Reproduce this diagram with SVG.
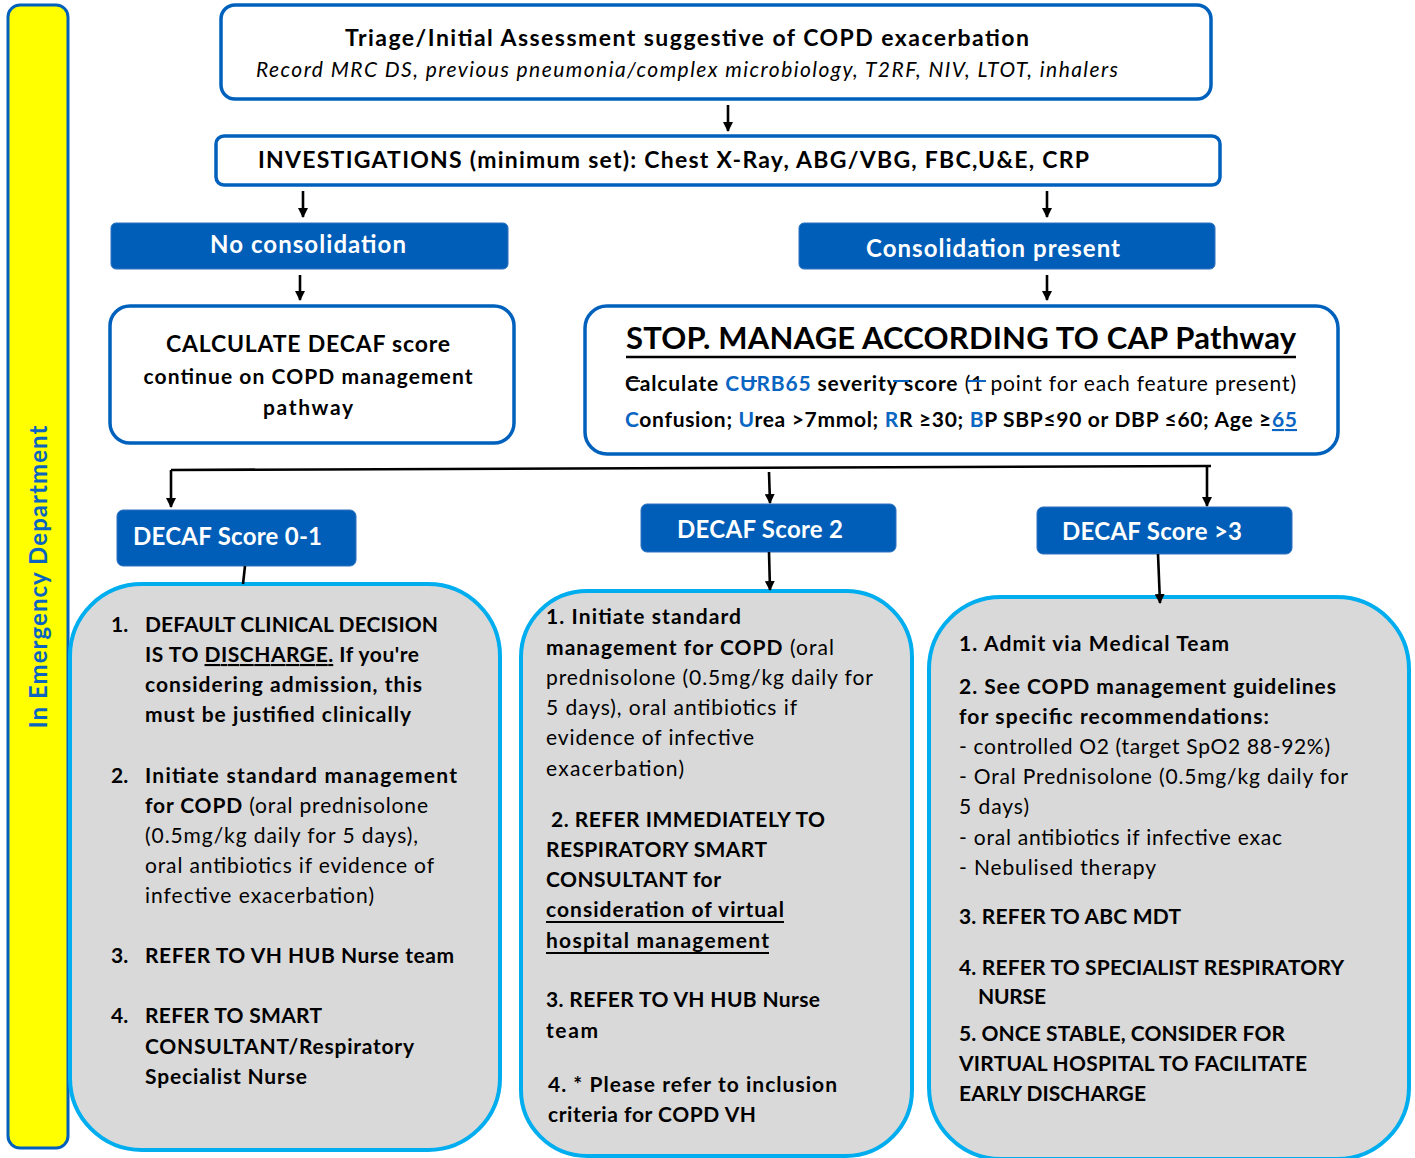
<svg xmlns="http://www.w3.org/2000/svg" width="1415" height="1158" viewBox="0 0 1415 1158">
  <defs>
    <marker id="arrow" markerWidth="10" markerHeight="10" refX="9" refY="5" orient="auto" markerUnits="userSpaceOnUse" viewBox="0 0 10 10">
      <path d="M0,0 L10,5 L0,10 Z" fill="#000"/>
    </marker>
    <style>
      text { font-family: Lato, "Open Sans", "Liberation Sans", sans-serif; fill: #000; }
      .outline { fill: #fff; stroke: #0061bd; stroke-width: 3.5; }
      .pill { fill: #005eb8; stroke: #2f73c0; stroke-width: 1; }
      .panel { fill: #d9d9d9; stroke: #00aeef; stroke-width: 4; }
      .conn { stroke: #000; stroke-width: 2.6; fill: none; }
      .pilltxt { fill: #fff; font-weight: 700; font-size: 24px; }
      .b { font-weight: 700; }
      .n { font-weight: 400; }
      .blue { fill: #0a66c2; }
      .body { font-size: 21px; }
      .u { text-decoration: underline; }
      .uline { stroke: #000; stroke-width: 1.8; }
    </style>
  </defs>

  <!-- side banner -->
  <g id="banner">
    <rect x="8" y="5" width="60" height="1143" rx="12" fill="#ffff00" stroke="#0061bd" stroke-width="3"/>
    <text transform="translate(47,577) rotate(-90)" text-anchor="middle" font-size="24" font-weight="700" style="fill:#0a64c0" textLength="303">In Emergency Department</text>
  </g>

  <!-- triage -->
  <g id="triage">
    <rect class="outline" x="221" y="5" width="990" height="94" rx="14"/>
    <text x="687" y="46" text-anchor="middle" font-size="23" class="b" textLength="684">Triage/Initial Assessment suggestive of COPD exacerbation</text>
    <text x="687" y="77" text-anchor="middle" font-size="21" font-style="italic" textLength="862">Record MRC DS, previous pneumonia/complex microbiology, T2RF, NIV, LTOT, inhalers</text>
  </g>

  <!-- investigations -->
  <g id="investigations">
    <rect class="outline" x="216" y="136" width="1004" height="49" rx="8"/>
    <text x="258" y="168" font-size="23" class="b" textLength="831">INVESTIGATIONS (minimum set): Chest X-Ray, ABG/VBG, FBC,U&amp;E, CRP</text>
  </g>

  <g id="no-consolidation">
    <rect class="pill" x="111" y="223" width="397" height="46" rx="5"/>
    <text class="pilltxt" x="308" y="253" text-anchor="middle" textLength="196">No consolidation</text>
  </g>

  <g id="consolidation">
    <rect class="pill" x="799" y="223" width="416" height="46" rx="5"/>
    <text class="pilltxt" x="993" y="257" text-anchor="middle" textLength="254">Consolidation present</text>
  </g>

  <g id="decaf-calc">
    <rect class="outline" x="110" y="306" width="404" height="137" rx="20"/>
    <text x="308" y="352" text-anchor="middle" font-size="23" class="b" textLength="284">CALCULATE DECAF score</text>
    <text x="308" y="384" text-anchor="middle" font-size="21" class="b" textLength="329">continue on COPD management</text>
    <text x="308" y="415" text-anchor="middle" font-size="21" class="b" textLength="90">pathway</text>
  </g>

  <g id="cap-pathway">
    <rect class="outline" x="585" y="306" width="753" height="148" rx="22"/>
    <text x="626" y="349" font-size="31" class="b" textLength="670">STOP. MANAGE ACCORDING TO CAP Pathway</text>
    <line x1="626" y1="357" x2="1296" y2="357" stroke="#000" stroke-width="2.5"/>
    <text x="625" y="391" font-size="21" textLength="671"><tspan class="b">Calculate </tspan><tspan class="b blue">CURB65</tspan><tspan class="b"> severity score</tspan><tspan class="n"> (1 point for each feature present)</tspan></text>
    <!-- stray edit marks -->
    <line x1="626" y1="381" x2="640" y2="381" stroke="#222" stroke-width="2"/>
    <g stroke="#0a66c2" stroke-width="2">
      <line x1="743" y1="381" x2="757" y2="381"/>
      <line x1="893" y1="381" x2="909" y2="381"/>
      <line x1="968" y1="381" x2="986" y2="381"/>
    </g>
    <text x="625" y="427" font-size="21" class="b" textLength="672"><tspan class="blue">C</tspan>onfusion; <tspan class="blue">U</tspan>rea &gt;7mmol; <tspan class="blue">R</tspan>R ≥30; <tspan class="blue">B</tspan>P SBP≤90 or DBP ≤60; Age ≥<tspan class="blue u">65</tspan></text>
  </g>

  <g id="decaf-0-1">
    <rect class="pill" x="117" y="510" width="239" height="56" rx="6"/>
    <text class="pilltxt" x="133" y="545" textLength="189">DECAF Score 0-1</text>
  </g>

  <g id="decaf-2">
    <rect class="pill" x="641" y="504" width="255" height="48" rx="6"/>
    <text class="pilltxt" x="677" y="538" textLength="166">DECAF Score 2</text>
  </g>

  <g id="decaf-3">
    <rect class="pill" x="1037" y="507" width="255" height="47" rx="6"/>
    <text class="pilltxt" x="1062" y="540" textLength="180">DECAF Score &gt;3</text>
  </g>

  <!-- low score actions -->
  <g id="actions-low">
    <rect class="panel" x="70" y="584" width="430" height="566" rx="72"/>
    <g class="body">
      <text x="111" y="632" class="b">1.</text>
      <text x="145" y="632" class="b" textLength="293">DEFAULT CLINICAL DECISION</text>
      <text x="145" y="662" class="b" textLength="274">IS TO <tspan class="u">DISCHARGE.</tspan> If you're</text>
      <text x="145" y="692" class="b" textLength="277">considering admission, this</text>
      <text x="145" y="722" class="b" textLength="266">must be justified clinically</text>
      <text x="111" y="783" class="b">2.</text>
      <text x="145" y="783" class="b" textLength="312">Initiate standard management</text>
      <text x="145" y="813" textLength="283"><tspan class="b">for COPD</tspan> (oral prednisolone</text>
      <text x="145" y="843" textLength="273">(0.5mg/kg daily for 5 days),</text>
      <text x="145" y="873" textLength="289">oral antibiotics if evidence of</text>
      <text x="145" y="903" textLength="229">infective exacerbation)</text>
      <text x="111" y="963" class="b">3.</text>
      <text x="145" y="963" class="b" textLength="309">REFER TO VH HUB Nurse team</text>
      <text x="111" y="1023" class="b">4.</text>
      <text x="145" y="1023" class="b" textLength="177">REFER TO SMART</text>
      <text x="145" y="1054" class="b" textLength="269">CONSULTANT/Respiratory</text>
      <text x="145" y="1084" class="b" textLength="162">Specialist Nurse</text>
    </g>
  </g>

  <!-- score 2 actions -->
  <g id="actions-mid">
    <rect class="panel" x="521" y="591" width="391" height="565" rx="66"/>
    <g class="body">
      <text x="546" y="624" class="b" textLength="195">1. Initiate standard</text>
      <text x="546" y="655" textLength="288"><tspan class="b">management for COPD</tspan> (oral</text>
      <text x="546" y="685" textLength="327">prednisolone (0.5mg/kg daily for</text>
      <text x="546" y="715" textLength="251">5 days), oral antibiotics if</text>
      <text x="546" y="745" textLength="208">evidence of infective</text>
      <text x="546" y="776" textLength="138">exacerbation)</text>
      <text x="551" y="827" class="b" textLength="274">2. REFER IMMEDIATELY TO</text>
      <text x="546" y="857" class="b" textLength="221">RESPIRATORY SMART</text>
      <text x="546" y="887" class="b" textLength="175">CONSULTANT for</text>
      <text x="546" y="917" class="b" textLength="238">consideration of virtual</text>
      <line class="uline" x1="546" y1="922" x2="784" y2="922"/>
      <text x="546" y="948" class="b" textLength="223">hospital management</text>
      <line class="uline" x1="546" y1="953" x2="769" y2="953"/>
      <text x="546" y="1007" class="b" textLength="274">3. REFER TO VH HUB Nurse</text>
      <text x="546" y="1038" class="b" textLength="52">team</text>
      <text x="548" y="1092" class="b" textLength="289">4. * Please refer to inclusion</text>
      <text x="548" y="1122" class="b" textLength="208">criteria for COPD VH</text>
    </g>
  </g>

  <!-- high score actions -->
  <g id="actions-high">
    <rect class="panel" x="929" y="597" width="480" height="562" rx="72"/>
    <g class="body">
      <text x="959" y="651" class="b" textLength="270">1. Admit via Medical Team</text>
      <text x="959" y="694" class="b" textLength="377">2. See COPD management guidelines</text>
      <text x="959" y="724" class="b" textLength="310">for specific recommendations:</text>
      <text x="959" y="754" textLength="371">- controlled O2 (target SpO2 88-92%)</text>
      <text x="959" y="784" textLength="389">- Oral Prednisolone (0.5mg/kg daily for</text>
      <text x="959" y="814" textLength="70">5 days)</text>
      <text x="959" y="845" textLength="323">- oral antibiotics if infective exac</text>
      <text x="959" y="875" textLength="197">- Nebulised therapy</text>
      <text x="959" y="924" class="b" textLength="222">3. REFER TO ABC MDT</text>
      <text x="959" y="975" class="b" textLength="385">4. REFER TO SPECIALIST RESPIRATORY</text>
      <text x="978" y="1004" class="b" textLength="68">NURSE</text>
      <text x="959" y="1041" class="b" textLength="326">5. ONCE STABLE, CONSIDER FOR</text>
      <text x="959" y="1071" class="b" textLength="348">VIRTUAL HOSPITAL TO FACILITATE</text>
      <text x="959" y="1101" class="b" textLength="187">EARLY DISCHARGE</text>
    </g>
  </g>

  <!-- connectors, drawn last so arrow tips sit over box edges -->
  <g id="connectors">
    <line class="conn" x1="728" y1="105" x2="728" y2="131" marker-end="url(#arrow)"/>
    <line class="conn" x1="303" y1="191" x2="303" y2="217" marker-end="url(#arrow)"/>
    <line class="conn" x1="1047" y1="191" x2="1047" y2="217" marker-end="url(#arrow)"/>
    <line class="conn" x1="300" y1="275" x2="300" y2="300" marker-end="url(#arrow)"/>
    <line class="conn" x1="1047" y1="275" x2="1047" y2="300" marker-end="url(#arrow)"/>
    <path class="conn" d="M171,470 L1211,466" stroke-width="3.2"/>
    <line class="conn" x1="171" y1="470" x2="171" y2="507" marker-end="url(#arrow)"/>
    <line class="conn" x1="769" y1="472" x2="770" y2="503" marker-end="url(#arrow)"/>
    <line class="conn" x1="1207" y1="466" x2="1207" y2="506" marker-end="url(#arrow)"/>
    <line class="conn" x1="245" y1="566" x2="243" y2="584"/>
    <line class="conn" x1="769" y1="552" x2="770" y2="590" marker-end="url(#arrow)"/>
    <line class="conn" x1="1158" y1="554" x2="1160" y2="603" marker-end="url(#arrow)"/>
  </g>
</svg>
